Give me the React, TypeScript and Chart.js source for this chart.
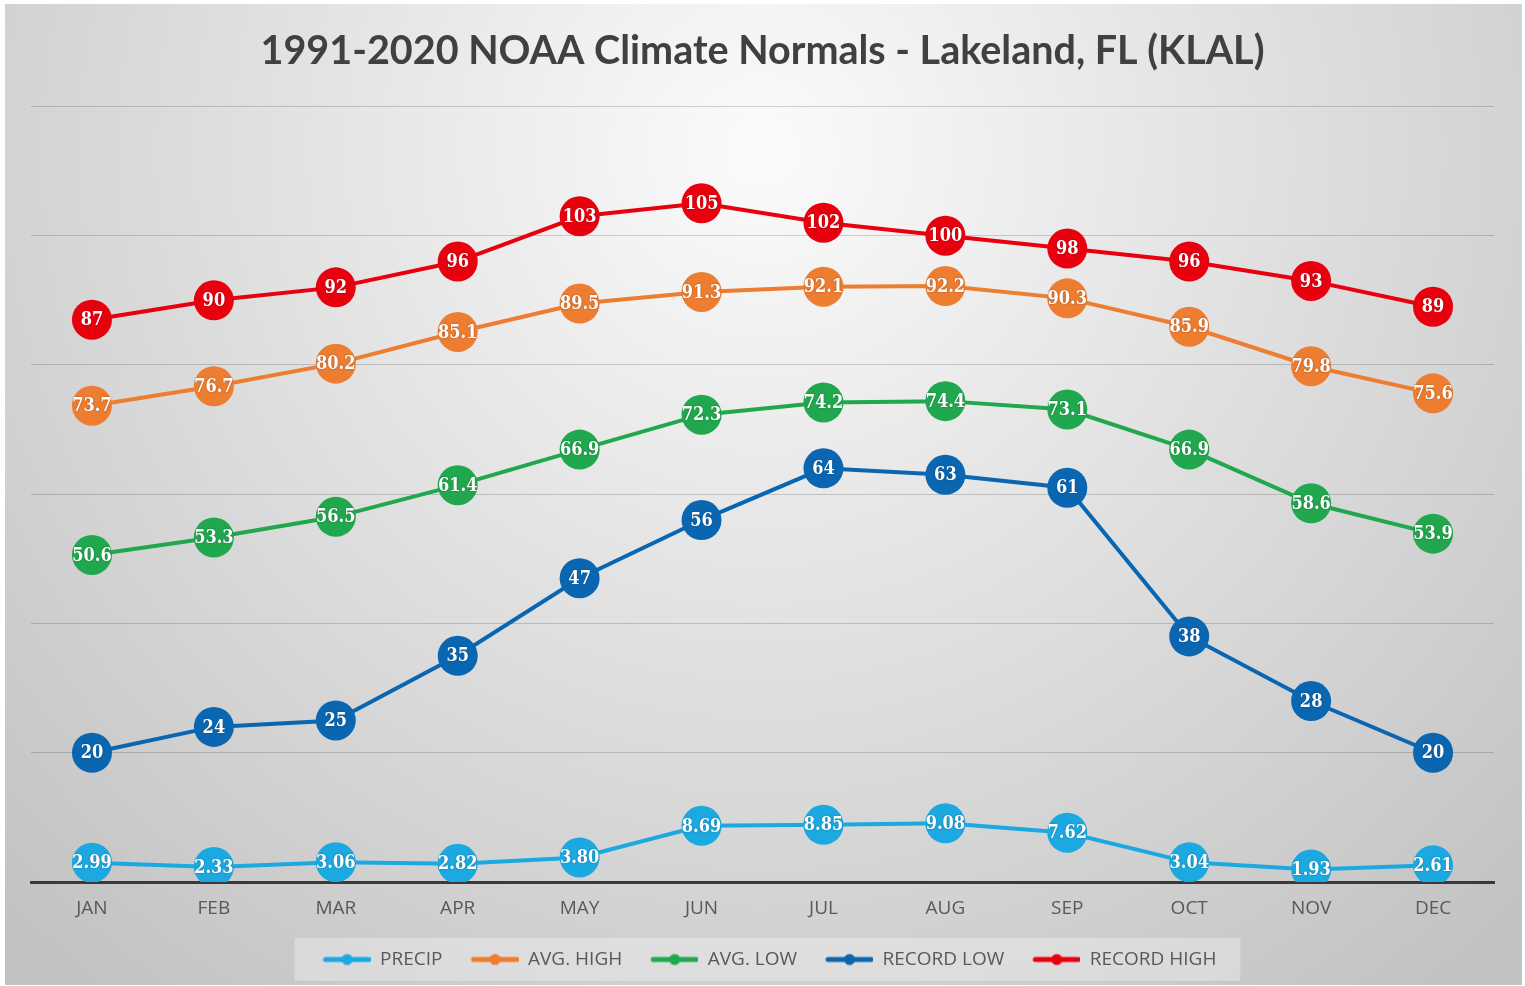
import React, { useEffect, useRef } from "react";
import { Chart, registerables } from "chart.js";
Chart.register(...registerables);

const MONTHS = ["JAN", "FEB", "MAR", "APR", "MAY", "JUN", "JUL", "AUG", "SEP", "OCT", "NOV", "DEC"];
const PRECIP = [2.99, 2.33, 3.06, 2.82, 3.8, 8.69, 8.85, 9.08, 7.62, 3.04, 1.93, 2.61];
const AVG_HIGH = [73.7, 76.7, 80.2, 85.1, 89.5, 91.3, 92.1, 92.2, 90.3, 85.9, 79.8, 75.6];
const AVG_LOW = [50.6, 53.3, 56.5, 61.4, 66.9, 72.3, 74.2, 74.4, 73.1, 66.9, 58.6, 53.9];
const RECORD_LOW = [20, 24, 25, 35, 47, 56, 64, 63, 61, 38, 28, 20];
const RECORD_HIGH = [87, 90, 92, 96, 103, 105, 102, 100, 98, 96, 93, 89];
const Y_TICKS = [0, 20, 40, 60, 80, 100, 120];

const TITLE = "1991-2020 NOAA Climate Normals - Lakeland, FL (KLAL)";

const COLORS = {
  precip: "#1ca9e1",
  avgHigh: "#ed7d31",
  avgLow: "#21a84f",
  recordLow: "#0b66b1",
  recordHigh: "#e8000f",
};

function legendMarker(color: string): HTMLCanvasElement {
  const c = document.createElement("canvas");
  c.width = 62;
  c.height = 14;
  const g = c.getContext("2d")!;
  g.strokeStyle = color;
  g.lineWidth = 5;
  g.lineCap = "round";
  g.beginPath();
  g.moveTo(17, 7);
  g.lineTo(60, 7);
  g.stroke();
  g.fillStyle = color;
  g.beginPath();
  g.arc(38.5, 7, 5.5, 0, Math.PI * 2);
  g.fill();
  return c;
}

const bgPlugin = {
  id: "bgPanel",
  beforeDraw(chart: any) {
    const { ctx, width, height } = chart;
    ctx.save();
    ctx.fillStyle = "#ffffff";
    ctx.fillRect(0, 0, width, height);
    const g = ctx.createRadialGradient(762, 150, 0, 762, 150, 1080);
    g.addColorStop(0, "#fbfbfb");
    g.addColorStop(1, "#c2c2c2");
    ctx.fillStyle = g;
    ctx.fillRect(5, 4, 1517, 981);
    const lg = chart.legend;
    if (lg && lg.legendHitBoxes && lg.legendHitBoxes.length) {
      const hb = lg.legendHitBoxes;
      const last = hb[hb.length - 1];
      const l = hb[0].left - 14;
      const r = last.left + last.width + 24;
      const cy = hb[0].top + hb[0].height / 2;
      ctx.fillStyle = "rgba(255,255,255,0.3)";
      ctx.fillRect(l, cy - 21.5, r - l, 43);
    }
    ctx.restore();
  },
};

const valueLabelPlugin = {
  id: "valueLabels",
  afterDatasetsDraw(chart: any) {
    const ctx = chart.ctx;
    chart.data.datasets.forEach((ds: any, i: number) => {
      const meta = chart.getDatasetMeta(i);
      if (meta.hidden) return;
      meta.data.forEach((pt: any, j: number) => {
        const v = ds.data[j] as number;
        ctx.save();
        ctx.font = 'bold 18px "DejaVu Serif Condensed"';
        ctx.fillStyle = "#ffffff";
        ctx.textAlign = "center";
        ctx.textBaseline = "middle";
        ctx.shadowColor = "rgba(0,0,0,0.35)";
        ctx.shadowBlur = 2;
        ctx.fillText(v.toFixed(ds.decimals), pt.x, pt.y + 1);
        ctx.restore();
      });
    });
  },
};

function series(label: string, data: number[], color: string, decimals: number) {
  return {
    label,
    data,
    decimals,
    borderColor: color,
    backgroundColor: color,
    borderWidth: 4,
    pointRadius: 20,
    pointHoverRadius: 20,
    pointBorderWidth: 0,
    pointBackgroundColor: color,
    tension: 0,
  } as any;
}

export default function App() {
  const ref = useRef<HTMLCanvasElement | null>(null);

  useEffect(() => {
    document.body.style.margin = "0";
    const canvas = ref.current!;
    const markers = [COLORS.precip, COLORS.avgHigh, COLORS.avgLow, COLORS.recordLow, COLORS.recordHigh].map(legendMarker);
    const chart = new Chart(canvas, {
      type: "line",
      data: {
        labels: MONTHS,
        datasets: [
          series("PRECIP", PRECIP, COLORS.precip, 2),
          series("AVG. HIGH", AVG_HIGH, COLORS.avgHigh, 1),
          series("AVG. LOW", AVG_LOW, COLORS.avgLow, 1),
          series("RECORD LOW", RECORD_LOW, COLORS.recordLow, 0),
          series("RECORD HIGH", RECORD_HIGH, COLORS.recordHigh, 0),
        ],
      },
      options: {
        responsive: false,
        animation: false,
        devicePixelRatio: 1,
        layout: { padding: { left: 31, right: 31, top: 4, bottom: 7 } },
        scales: {
          x: {
            offset: true,
            grid: { display: false, drawTicks: false },
            border: { display: true, color: "#3a3a3a", width: 3 },
            ticks: {
              color: "#595959",
              font: { family: "Open Sans", size: 19 },
              padding: 15,
            },
            afterFit(scale: any) {
              scale.height = 54;
            },
          },
          y: {
            min: 0,
            max: 120,
            afterBuildTicks(scale: any) {
              scale.ticks = Y_TICKS.map((v) => ({ value: v }));
            },
            ticks: { display: false },
            border: { display: false },
            grid: {
              drawTicks: false,
              color: (c: any) => (c.tick && c.tick.value === 0 ? "rgba(0,0,0,0)" : "rgba(0,0,0,0.17)"),
              lineWidth: 1,
            },
            afterFit(scale: any) {
              scale.width = 0;
            },
          },
        },
        plugins: {
          title: {
            display: true,
            text: TITLE,
            color: "#404040",
            font: { family: "Lato", size: 39.5, weight: "bold" },
            padding: { top: 24, bottom: 31 },
          },
          legend: {
            display: true,
            position: "bottom",
            labels: {
              usePointStyle: true,
              pointStyleWidth: 62,
              padding: 14,
              color: "#595959",
              font: { family: "Open Sans", size: 19 },
              generateLabels(ch: any) {
                const items = Chart.defaults.plugins.legend.labels.generateLabels(ch);
                return items.map((it: any, i: number) => ({ ...it, pointStyle: markers[i] }));
              },
            },
          },
          tooltip: { enabled: false },
        },
      } as any,
      plugins: [bgPlugin, valueLabelPlugin],
    });
    return () => chart.destroy();
  }, []);

  return (
    <canvas
      ref={ref}
      width={1525}
      height={986}
      style={{ display: "block", width: "1525px", height: "986px" }}
    />
  );
}
